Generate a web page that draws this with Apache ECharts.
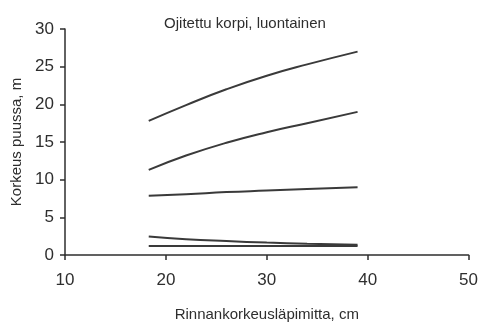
<!DOCTYPE html>
<html>
<head>
<meta charset="utf-8">
<script src="https://cdn.jsdelivr.net/npm/echarts@6/dist/echarts.min.js"></script>
<style>
html,body{margin:0;padding:0;background:#fff;}
#chart{width:481px;height:327px;}
</style>
</head>
<body>
<div id="chart"></div>
<script>
var diameters = [18.3, 22, 26, 30, 34, 39];
var curve1 = [17.8, 19.9, 22.0, 23.8, 25.3, 27.0];
var curve2 = [11.3, 13.2, 14.9, 16.3, 17.5, 19.0];
var curve3 = [7.85, 8.05, 8.35, 8.55, 8.75, 9.0];
var curve4 = [2.45, 2.1, 1.85, 1.65, 1.5, 1.35];
var curve5 = [1.2, 1.2, 1.2, 1.2, 1.2, 1.2];
var titleText = 'Ojitettu korpi, luontainen';
var xName = 'Rinnankorkeusläpimitta, cm';
var yName = 'Korkeus puussa, m';

function pairs(ys){ return diameters.map(function(x,i){ return [x, ys[i]]; }); }
var font = '"Liberation Sans", Arial, sans-serif';
var ink = '#2e2e2e';
function mk(ys){
  return {type:'line', data:pairs(ys), smooth:true, showSymbol:false, silent:true,
    lineStyle:{color:'#3a3a3a', width:2}};
}
var chart = echarts.init(document.getElementById('chart'));
chart.setOption({
  animation:false,
  backgroundColor:'#fff',
  title:{text:titleText, left:240, top:11, textAlign:'center',
    textStyle:{fontFamily:font, fontSize:15, fontWeight:'normal', color:ink}},
  grid:{left:65, right:11, top:29, bottom:64, containLabel:false},
  xAxis:{type:'value', min:10, max:50, interval:10,
    name:xName, nameLocation:'middle', nameGap:52,
    nameTextStyle:{fontFamily:font, fontSize:15, color:ink},
    axisLine:{lineStyle:{color:ink, width:1.5}},
    axisTick:{show:true, inside:false, length:5, lineStyle:{color:ink, width:1.5}},
    axisLabel:{fontFamily:font, fontSize:17, color:ink, margin:17},
    splitLine:{show:false}},
  yAxis:{type:'value', min:0, max:30, interval:5,
    name:yName, nameLocation:'middle', nameGap:40,
    nameTextStyle:{fontFamily:font, fontSize:15, color:ink},
    axisLine:{show:true, lineStyle:{color:ink, width:1.5}},
    axisTick:{show:true, inside:false, length:5, lineStyle:{color:ink, width:1.5}},
    axisLabel:{fontFamily:font, fontSize:17, color:ink, margin:11},
    splitLine:{show:false}},
  series:[mk(curve1), mk(curve2), mk(curve3), mk(curve4), mk(curve5)]
});
</script>
</body>
</html>
